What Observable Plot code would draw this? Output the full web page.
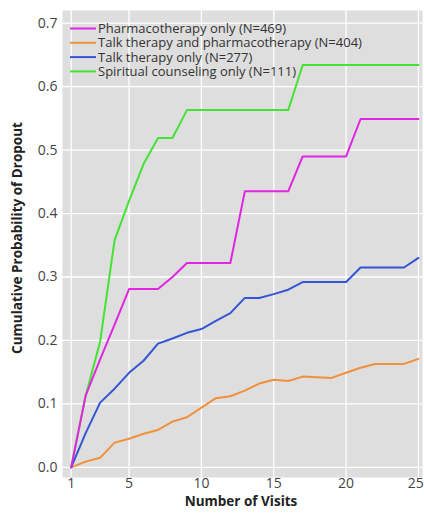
<!DOCTYPE html>
<html><head><meta charset="utf-8">
<script src="https://cdn.jsdelivr.net/npm/d3@7"></script>
<script src="https://cdn.jsdelivr.net/npm/@observablehq/plot@0.6"></script>
<style>body{margin:0;background:#fff;overflow:hidden;}</style>
</head><body><div id="chart"></div>
<script>
const visits = [1,2,3,4,5,6,7,8,9,10,11,12,13,14,15,16,17,18,19,20,21,22,23,24,25];
const seriesNames = [
  "Pharmacotherapy only (N=469)",
  "Talk therapy and pharmacotherapy (N=404)",
  "Talk therapy only (N=277)",
  "Spiritual counseling only (N=111)"
];
const seriesColors = ["#e026e0", "#f0903a", "#3355d6", "#44e233"];
const pharmacotherapy = [0, 0.113, 0.17, 0.225, 0.281, 0.281, 0.281, 0.30, 0.322, 0.322, 0.322, 0.322, 0.435, 0.435, 0.435, 0.435, 0.49, 0.49, 0.49, 0.49, 0.549, 0.549, 0.549, 0.549, 0.549];
const talkAndPharma = [0, 0.009, 0.015, 0.039, 0.045, 0.053, 0.059, 0.072, 0.079, 0.094, 0.109, 0.112, 0.121, 0.132, 0.138, 0.136, 0.143, 0.142, 0.141, 0.149, 0.157, 0.163, 0.163, 0.163, 0.171];
const talkOnly = [0, 0.054, 0.102, 0.124, 0.149, 0.168, 0.195, 0.203, 0.212, 0.218, 0.231, 0.243, 0.267, 0.267, 0.273, 0.28, 0.292, 0.292, 0.292, 0.292, 0.315, 0.315, 0.315, 0.315, 0.33];
const spiritual = [0, 0.113, 0.198, 0.358, 0.42, 0.478, 0.519, 0.519, 0.563, 0.563, 0.563, 0.563, 0.563, 0.563, 0.563, 0.563, 0.634, 0.634, 0.634, 0.634, 0.634, 0.634, 0.634, 0.634, 0.634];
const xTicks = [1, 5, 10, 15, 20, 25];
const yTicks = [0, 0.1, 0.2, 0.3, 0.4, 0.5, 0.6, 0.7];
const xTitle = "Number of Visits";
const yTitle = "Cumulative Probability of Dropout";

const seriesValues = [pharmacotherapy, talkAndPharma, talkOnly, spiritual];
const data = [];
seriesValues.forEach((vals, k) => vals.forEach((v, i) => data.push({visit: visits[i], p: v, series: seriesNames[k]})));
const drawOrder = [3, 1, 2, 0];
const ordered = drawOrder.flatMap(k => data.filter(d => d.series === seriesNames[k]));

const svg = Plot.plot({
  width: 424, height: 513,
  marginLeft: 62, marginRight: 2, marginTop: 10, marginBottom: 36,
  style: {fontFamily: "'Open Sans', sans-serif", fontSize: "14px", color: "#444", background: "#fff"},
  x: {domain: [0.4, 25.28], ticks: xTicks, tickFormat: d => String(d), tickSize: 0, tickPadding: 1, label: null},
  y: {domain: [-0.016, 0.72], ticks: yTicks, tickFormat: d => d.toFixed(1), tickSize: 0, tickPadding: 5, label: null},
  color: {domain: seriesNames, range: seriesColors},
  marks: [
    Plot.frame({fill: "#dedede", stroke: "none"}),
    Plot.ruleX(xTicks, {stroke: "#fff", strokeWidth: 1.3}),
    Plot.ruleY(yTicks, {stroke: "#fff", strokeWidth: 1.3}),
    Plot.line(ordered, {x: "visit", y: "p", z: "series", stroke: "series", strokeWidth: 2})
  ]
});
document.getElementById("chart").appendChild(svg);

const s = d3.select(svg);
// superscript b on the 25 tick
s.selectAll("g[aria-label^='x-axis'] text").filter(function(){ return this.textContent === "25"; })
  .append("tspan").attr("baseline-shift", "super").attr("font-size", "9px").text("b");

// axis titles
s.append("text").attr("x", 241).attr("y", 506).attr("text-anchor", "middle")
  .attr("font-family", "'Open Sans', sans-serif").attr("font-size", 13.5).attr("font-weight", "bold").attr("fill", "#222")
  .text(xTitle);
s.append("text").attr("transform", "translate(22,238) rotate(-90)").attr("text-anchor", "middle")
  .attr("font-family", "'Open Sans', sans-serif").attr("font-size", 13.5).attr("font-weight", "bold").attr("fill", "#222")
  .text(yTitle);

// legend
const lg = s.append("g").attr("font-family", "'Open Sans', sans-serif").attr("font-size", 13).attr("fill", "#333").attr("text-anchor", "start");
seriesNames.forEach((name, i) => {
  const cy = 28.5 + i * 14.3;
  lg.append("line").attr("x1", 70).attr("x2", 96).attr("y1", cy).attr("y2", cy)
    .attr("stroke", seriesColors[i]).attr("stroke-width", 2);
  lg.append("text").attr("x", 98).attr("y", cy).attr("dy", "0.35em").text(name);
});
</script>
</body></html>
